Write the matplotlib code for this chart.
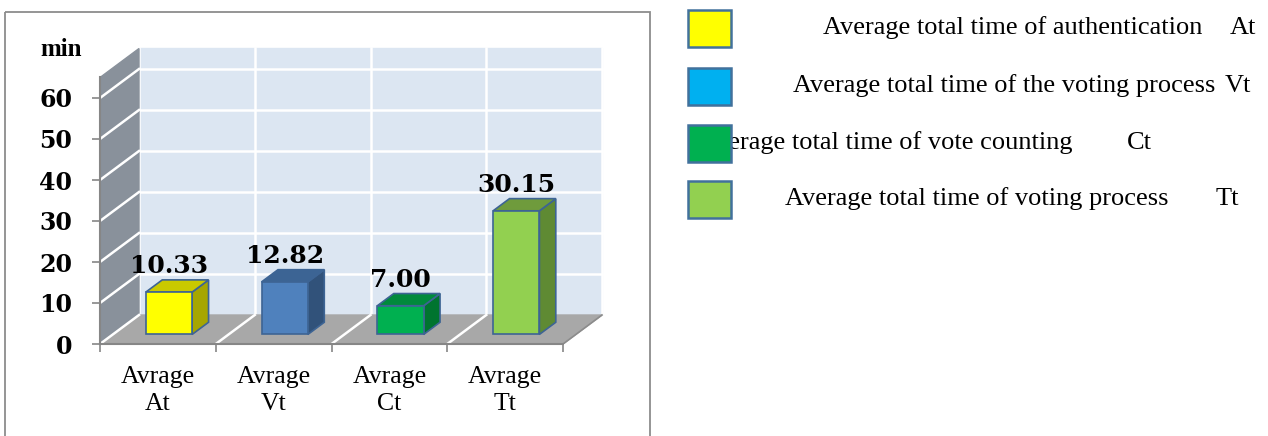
import matplotlib.pyplot as plt

# chart data
categories = ['Avrage\nAt', 'Avrage\nVt', 'Avrage\nCt', 'Avrage\nTt']
values = [10.33, 12.82, 7.00, 30.15]
y_ticks = [0, 10, 20, 30, 40, 50, 60]

front_colors = ['#ffff00', '#4f81bd', '#00b050', '#92d050']
side_colors = ['#a6a600', '#31527a', '#00742f', '#5f8a33']
top_colors = ['#c9c900', '#3c6494', '#008a3c', '#6f9b3c']

legend_labels = ['Average total time of authentication',
                 'Average total time of the voting process',
                 'Average total time of vote counting',
                 'Average total time of voting process']
legend_codes = ['At', 'Vt', 'Ct', 'Tt']
legend_colors = ['#ffff00', '#00b0f0', '#00b050', '#92d050']

W, H = 1268, 436
fig = plt.figure(figsize=(W / 100, H / 100), dpi=100)

# front plane of the 3-D box: 115.75 px per category, 4.1 px per minute
px_x, px_y = 115.75, 4.1
left, bottom, width, height = 100, 344, 520, 304
ax = fig.add_axes([left / W, (H - bottom) / H, width / W, height / H])
ax.set_xlim(0, width / px_x)
ax.set_ylim(0, height / px_y)
ax.patch.set_visible(False)

n = len(values)
ytop = 65
DX, DY = 39 / px_x, 29 / px_y   # depth offset of the back wall

# back wall, side wall, floor
ax.fill([DX, n + DX, n + DX, DX], [DY, DY, ytop + DY, ytop + DY], color='#dce6f2', zorder=0)
ax.fill([0, DX, DX, 0], [0, DY, ytop + DY, ytop], color='#89919b', zorder=1)
ax.fill([0, n, n + DX, DX], [0, 0, DY, DY], color='#a8a8a8', zorder=1)

for v in y_ticks[1:]:
    ax.plot([DX, n + DX], [v + DY, v + DY], color='white', lw=1.8, zorder=0.5)
for v in y_ticks:
    ax.plot([0, DX], [v, v + DY], color='white', lw=1.8, zorder=1.5)
for i in range(n + 1):
    ax.plot([i + DX, i + DX], [DY, ytop + DY], color='white', lw=1.8, zorder=0.5)
for i in range(1, n):
    ax.plot([i, i + DX], [0, DY], color='white', lw=1.8, zorder=1.5)
ax.plot([n, n + DX], [0, DY], color='#8c8c8c', lw=1.2, zorder=1.5)

# 3-D bars
f0, f1 = 0.33, 0.75
edge = '#3d6494'
for i, v in enumerate(values):
    x0, x1 = i + 0.285, i + 0.685
    ax0, ay0 = f0 * DX, f0 * DY
    ax1, ay1 = f1 * DX, f1 * DY
    ax.fill([x0 + ax0, x1 + ax0, x1 + ax0, x0 + ax0], [ay0, ay0, ay0 + v, ay0 + v],
            facecolor=front_colors[i], edgecolor=edge, lw=1.2, zorder=4)
    ax.fill([x1 + ax0, x1 + ax1, x1 + ax1, x1 + ax0], [ay0, ay1, ay1 + v, ay0 + v],
            facecolor=side_colors[i], edgecolor=edge, lw=1.2, zorder=3)
    ax.fill([x0 + ax0, x1 + ax0, x1 + ax1, x0 + ax1], [ay0 + v, ay0 + v, ay1 + v, ay1 + v],
            facecolor=top_colors[i], edgecolor=edge, lw=1.2, zorder=3)
    ax.annotate(f'{v:.2f}', ((x0 + x1) / 2 + ax0, v + ay1), xytext=(0, 7),
                textcoords='offset pixels', ha='center', va='baseline',
                fontsize=18, fontweight='bold', family='DejaVu Serif', zorder=5)

# axes
for s in ['top', 'right']:
    ax.spines[s].set_visible(False)
ax.spines['left'].set_bounds(0, ytop)
ax.spines['bottom'].set_bounds(0, n)
for s in ['left', 'bottom']:
    ax.spines[s].set_color('#868686')
    ax.spines[s].set_linewidth(1.5)
    ax.spines[s].set_zorder(2)

ax.set_yticks(y_ticks)
ax.set_yticklabels([str(t) for t in y_ticks], fontsize=17, fontweight='bold',
                   family='DejaVu Serif')
ax.tick_params(axis='y', length=6, width=1.2, color='#868686', pad=14)

ax.set_xticks(range(n + 1))
ax.set_xticklabels([])
ax.set_xticks([i + 0.5 for i in range(n)], minor=True)
ax.set_xticklabels(categories, minor=True, fontsize=18.5, family='Liberation Serif',
                   linespacing=1.28)
ax.tick_params(axis='x', which='major', length=6, width=1.2, color='#868686')
ax.tick_params(axis='x', which='minor', length=0, pad=16)

# overlay in pixel units for the frame, unit label and legend
lg = fig.add_axes([0, 0, 1, 1])
lg.set_xlim(0, W)
lg.set_ylim(H, 0)
lg.axis('off')
lg.add_patch(plt.Rectangle((5, 12), 645, 440, fill=False, edgecolor='#8c8c8c', lw=1.3))
lg.text(40, 50, 'min', fontsize=18, fontweight='bold', family='Liberation Serif',
        ha='left', va='center')

text_x = [823, 793, 698, 785]
code_x = [1230, 1225, 1127, 1216]
row_y = [28, 86, 143, 199]
for k in range(len(legend_labels)):
    lg.add_patch(plt.Rectangle((688, row_y[k] - 18), 43, 37, facecolor=legend_colors[k],
                               edgecolor='#41719c', lw=1.8, zorder=3))
    lg.text(text_x[k], row_y[k], legend_labels[k], fontsize=19, family='Liberation Serif',
            ha='left', va='center', zorder=2)
    lg.text(code_x[k], row_y[k], legend_codes[k], fontsize=19, family='Liberation Serif',
            ha='left', va='center', zorder=2)

fig.savefig('out.png', dpi=100)
